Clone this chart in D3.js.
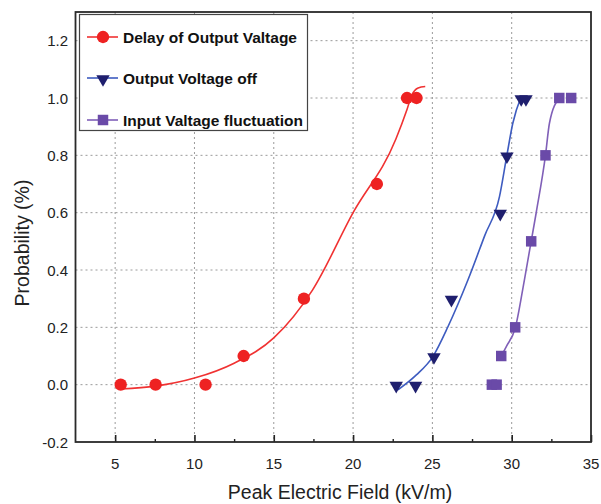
<!DOCTYPE html>
<meta charset="utf-8">
<title>Probability vs Peak Electric Field</title>
<style>
body { margin: 0; background: #fff; }
svg { font-family: "Liberation Sans", Arial, sans-serif; }
.grid line { stroke: #9a9a9a; stroke-dasharray: 2,3; stroke-width: 1; }
</style>
<script src="https://d3js.org/d3.v7.min.js"></script>
<div id="chart"></div>
<script>
// measured points (x = kV/m, y = probability)
var delayPts = [[5.35,0],[7.55,0],[10.7,0],[13.1,0.1],[16.9,0.3],[21.5,0.7],[23.4,1.0],[24.0,1.0]];
var offPts   = [[22.72,0],[23.94,0],[25.1,0.1],[26.2,0.3],[29.28,0.6],[29.7,0.8],[30.6,1.0],[30.9,1.0]];
var inputPts = [[28.75,0],[29.05,0],[29.34,0.1],[30.22,0.2],[31.23,0.5],[32.13,0.8],[33.0,1.0],[33.75,1.0]];

// fitted curves
var delayFit = [[5.35,-0.015],[7.55,-0.005],[10,0.023],[12.5,0.075],[15,0.163],[17.44,0.33],[20,0.6],[22.7,0.857],[23.4,0.96],[23.7,1.01],[24.1,1.035],[24.55,1.04]];
var offFit   = [[22.83,-0.018],[23.99,0.034],[25.03,0.098],[25.98,0.202],[27.24,0.365],[28.3,0.52],[29.23,0.656],[29.69,0.798],[30.07,0.912],[30.6,1.005]];
var inputFit = [[29.34,0.1],[29.66,0.133],[30.22,0.197],[30.8,0.365],[31.54,0.598],[32.13,0.8],[32.38,0.912],[33.0,1.0]];

var xTicks = [5,10,15,20,25,30,35];
var xMinor = [7.5,12.5,17.5,22.5,27.5,32.5];
var yTicks = [-0.2,0.0,0.2,0.4,0.6,0.8,1.0,1.2];
var seriesNames = ["Delay of Output Valtage","Output Voltage off","Input Valtage fluctuation"];

var W = 601, H = 504;
var pLeft = 75.5, pRight = 591, pTop = 12, pBottom = 442;

var svg = d3.select("#chart").append("svg")
  .attr("width", W).attr("height", H);

var x = d3.scaleLinear().domain([2.5, 35]).range([pLeft, pRight]);
var y = d3.scaleLinear().domain([-0.2, 1.3]).range([pBottom, pTop]);

// grid
var grid = svg.append("g").attr("class", "grid");
grid.selectAll(".gx").data(xTicks.filter(function(d){ return d < 35; })).enter()
  .append("line")
  .attr("x1", function(d){ return x(d); }).attr("x2", function(d){ return x(d); })
  .attr("y1", pTop).attr("y2", pBottom);
grid.selectAll(".gy").data(yTicks.filter(function(d){ return d > -0.2; })).enter()
  .append("line")
  .attr("x1", pLeft).attr("x2", pRight)
  .attr("y1", function(d){ return y(d); }).attr("y2", function(d){ return y(d); });

// bottom axis, ticks pointing inward
svg.append("g")
  .attr("transform", "translate(0," + pBottom + ")")
  .call(d3.axisTop(x).tickValues(xTicks).tickSize(7).tickFormat(""))
  .call(function(g){ g.select(".domain").remove(); g.selectAll("line").attr("stroke", "#222").attr("stroke-width", 1.6); });
svg.append("g")
  .attr("transform", "translate(0," + pBottom + ")")
  .call(d3.axisTop(x).tickValues(xMinor).tickSize(3).tickFormat(""))
  .call(function(g){ g.select(".domain").remove(); g.selectAll("line").attr("stroke", "#222").attr("stroke-width", 1.4); });

svg.selectAll(".xl").data(xTicks).enter().append("text")
  .attr("x", function(d){ return x(d); })
  .attr("y", 469)
  .attr("text-anchor", "middle")
  .attr("font-size", 15)
  .attr("fill", "#222")
  .text(function(d){ return d; });

svg.selectAll(".yl").data(yTicks).enter().append("text")
  .attr("x", 68)
  .attr("y", function(d){ return y(d) + 5.5; })
  .attr("text-anchor", "end")
  .attr("font-size", 15)
  .attr("fill", "#222")
  .text(function(d){ return d3.format(".1f")(d).replace("−", "-"); });

// frame
svg.append("rect")
  .attr("x", pLeft).attr("y", pTop)
  .attr("width", pRight - pLeft).attr("height", pBottom - pTop)
  .attr("fill", "none").attr("stroke", "#2a2a2a").attr("stroke-width", 1.8);

// axis titles
svg.append("text")
  .attr("x", 340).attr("y", 499)
  .attr("text-anchor", "middle").attr("font-size", 19.5).attr("fill", "#222")
  .text("Peak Electric Field (kV/m)");
svg.append("text")
  .attr("transform", "translate(29,243) rotate(-90)")
  .attr("text-anchor", "middle").attr("font-size", 19.5).attr("fill", "#222")
  .text("Probability (%)");

var line = d3.line()
  .x(function(d){ return x(d[0]); })
  .y(function(d){ return y(d[1]); })
  .curve(d3.curveMonotoneX);

var styles = [
  {line: "#f03232", fill: "#ee2222", sym: d3.symbolCircle, size: 120, rot: 0},
  {line: "#3e5cc0", fill: "#1f1f6e", sym: d3.symbolTriangle, size: 78, rot: 180},
  {line: "#8060b8", fill: "#6a4aa8", sym: d3.symbolSquare, size: 110, rot: 0}
];
var fits = [delayFit, offFit, inputFit];
var pts = [delayPts, offPts, inputPts];

fits.forEach(function(f, i){
  svg.append("path").datum(f)
    .attr("d", line)
    .attr("fill", "none")
    .attr("stroke", styles[i].line)
    .attr("stroke-width", 1.6);
});

pts.forEach(function(p, i){
  var s = styles[i];
  svg.selectAll(".m" + i).data(p).enter().append("path")
    .attr("d", d3.symbol().type(s.sym).size(s.size))
    .attr("transform", function(d){
      var dy = s.rot ? 1 : 0;
      return "translate(" + x(d[0]) + "," + (y(d[1]) + dy) + ") rotate(" + s.rot + ")";
    })
    .attr("fill", s.fill);
});

// legend
var lg = svg.append("g");
lg.append("rect")
  .attr("x", 79.5).attr("y", 14.5).attr("width", 228).attr("height", 116)
  .attr("fill", "#fff").attr("stroke", "#444").attr("stroke-width", 1.2);
var legY = [37, 78, 120];
seriesNames.forEach(function(name, i){
  var s = styles[i];
  lg.append("line")
    .attr("x1", 87).attr("x2", 118)
    .attr("y1", legY[i]).attr("y2", legY[i])
    .attr("stroke", s.line).attr("stroke-width", 1.6);
  lg.append("path")
    .attr("d", d3.symbol().type(s.sym).size(s.size)())
    .attr("transform", "translate(103," + (legY[i] + (s.rot ? 1 : 0)) + ") rotate(" + s.rot + ")")
    .attr("fill", s.fill);
  lg.append("text")
    .attr("x", 123).attr("y", legY[i] + 6)
    .attr("font-size", 15.5).attr("font-weight", "bold").attr("fill", "#111")
    .text(name);
});
</script>
